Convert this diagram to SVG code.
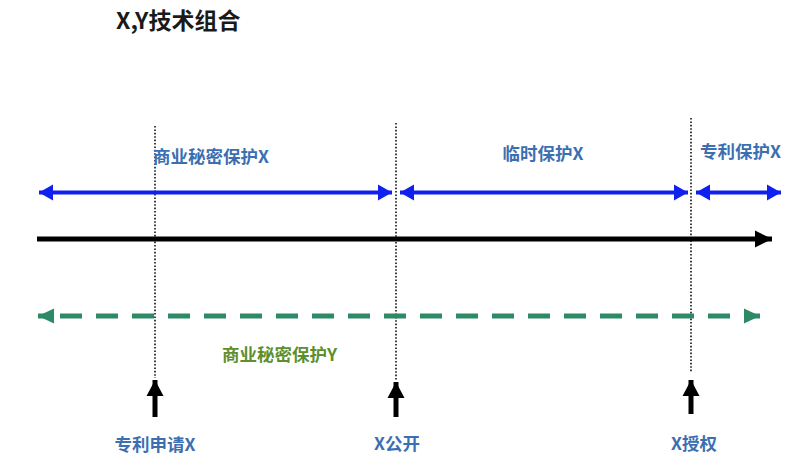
<svg xmlns="http://www.w3.org/2000/svg" width="799" height="472" viewBox="0 0 799 472">
<style>
.cjk{font-family:"Noto Sans CJK SC","Liberation Sans",sans-serif;font-weight:bold}
.blue{fill:#3b6fb1;font-size:17.5px}
.green{fill:#5e8f2c;font-size:17.5px}
.title{fill:#1a1a1a;font-size:23px}
.dot{stroke:#111;stroke-width:1.6;stroke-dasharray:1.6 1.8;fill:none}
.bl{stroke:#1020ee;stroke-width:4;fill:none}
</style>
<defs>
<marker id="hb" markerUnits="userSpaceOnUse" markerWidth="16" markerHeight="18" refX="14" refY="9" orient="auto-start-reverse"><path d="M0,1 L14,9 L0,17 Z" fill="#1020ee"/></marker>
<marker id="hk" markerUnits="userSpaceOnUse" markerWidth="18" markerHeight="20" refX="17" refY="10" orient="auto"><path d="M0,1.5 L17,10 L0,18.5 Z" fill="#000"/></marker>
<marker id="hg" markerUnits="userSpaceOnUse" markerWidth="18" markerHeight="18" refX="16" refY="9" orient="auto-start-reverse"><path d="M0,1.5 L16,9 L0,16.5 Z" fill="#2e8a66"/></marker>
<marker id="hu" markerUnits="userSpaceOnUse" markerWidth="18" markerHeight="20" refX="16" refY="10" orient="auto"><path d="M0,1.5 L16,10 L0,18.5 Z" fill="#000"/></marker>
</defs>
<rect width="799" height="472" fill="#fff"/>
<text class="cjk title" x="116" y="29">X,Y技术组合</text>
<g id="connectors">
<line class="dot" x1="155" y1="126" x2="155" y2="378"/>
<line class="dot" x1="396" y1="123" x2="396" y2="380"/>
<line class="dot" x1="691" y1="118" x2="691" y2="372"/>
<line class="bl" x1="39" y1="192.5" x2="392" y2="192.5" marker-start="url(#hb)" marker-end="url(#hb)"/>
<line class="bl" x1="400" y1="192.5" x2="688" y2="192.5" marker-start="url(#hb)" marker-end="url(#hb)"/>
<line class="bl" x1="696" y1="192.5" x2="781" y2="192.5" marker-start="url(#hb)" marker-end="url(#hb)"/>
<line x1="37" y1="239" x2="772" y2="239" stroke="#000" stroke-width="5" marker-end="url(#hk)"/>
<line x1="60" y1="316" x2="746" y2="316" stroke="#2e8a66" stroke-width="5" stroke-dasharray="22 14"/>
<line x1="38" y1="316" x2="48" y2="316" stroke="#2e8a66" stroke-width="5" marker-start="url(#hg)"/>
<line x1="750" y1="316" x2="760" y2="316" stroke="#2e8a66" stroke-width="5" marker-end="url(#hg)"/>
<line x1="155" y1="417" x2="155" y2="380" stroke="#000" stroke-width="5" marker-end="url(#hu)"/>
<line x1="396" y1="417" x2="396" y2="382" stroke="#000" stroke-width="5" marker-end="url(#hu)"/>
<line x1="691" y1="414" x2="691" y2="380" stroke="#000" stroke-width="5" marker-end="url(#hu)"/>
</g>
<g id="label-trade-secret-x"><text class="cjk blue" x="153" y="163">商业秘密保护X</text></g>
<g id="label-temp-x"><text class="cjk blue" x="543" y="160" text-anchor="middle">临时保护X</text></g>
<g id="label-patent-x"><text class="cjk blue" x="700" y="158">专利保护X</text></g>
<g id="label-trade-secret-y"><text class="cjk green" x="222" y="361">商业秘密保护Y</text></g>
<g id="event-apply"><text class="cjk blue" x="155" y="451" text-anchor="middle">专利申请X</text></g>
<g id="event-publish"><text class="cjk blue" x="397" y="450" text-anchor="middle">X公开</text></g>
<g id="event-grant"><text class="cjk blue" x="694" y="450" text-anchor="middle">X授权</text></g>
</svg>
